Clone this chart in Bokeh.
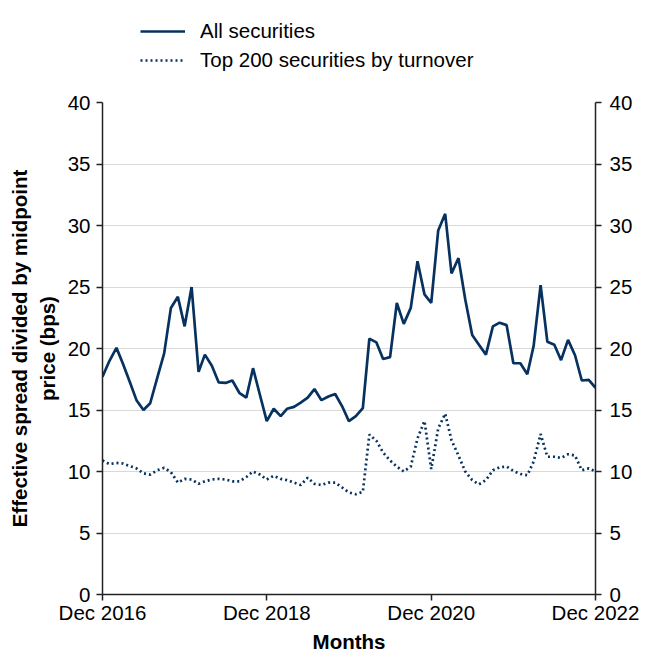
import pandas as pd
from bokeh.plotting import figure
from bokeh.layouts import column
from bokeh.models import (Legend, LegendItem, LinearAxis, Range1d, FixedTicker,
                          DatetimeTickFormatter, ColumnDataSource)
from bokeh.embed import file_html
from bokeh.resources import INLINE

months = pd.date_range("2016-12-01", periods=73, freq="MS")

all_securities = [
    17.7, 19.0, 20.05, 18.8, 17.3, 15.8, 15.0, 15.55, 17.6, 19.6,
    23.3, 24.2, 21.8, 25.0, 18.1, 19.5, 18.6, 17.25, 17.2, 17.4,
    16.4, 16.0, 18.4, 16.2, 14.1, 15.1, 14.5, 15.1, 15.25, 15.6,
    16.0, 16.7, 15.8, 16.1, 16.3, 15.3, 14.1, 14.5, 15.15, 20.8,
    20.5, 19.15, 19.3, 23.7, 22.0, 23.3, 27.1, 24.4, 23.7, 29.6,
    30.95, 26.1, 27.35, 24.0, 21.1, 20.3, 19.5, 21.8, 22.1, 21.9,
    18.8, 18.8, 17.9, 20.2, 25.15, 20.55, 20.3, 19.05, 20.7, 19.45,
    17.4, 17.45, 16.8,
]

top200 = [
    10.9, 10.6, 10.7, 10.65, 10.45, 10.25, 9.85, 9.75, 10.1, 10.3,
    9.95, 9.1, 9.4, 9.35, 9.0, 9.2, 9.35, 9.4, 9.35, 9.2,
    9.2, 9.55, 10.0, 9.75, 9.35, 9.65, 9.4, 9.3, 9.1, 8.9,
    9.5, 9.0, 8.9, 9.1, 9.1, 8.7, 8.3, 8.15, 8.35, 13.0,
    12.5, 11.55, 10.9, 10.4, 10.0, 10.4, 12.7, 14.1, 10.2, 13.5,
    14.7, 12.55, 11.3, 10.0, 9.3, 8.95, 9.3, 10.1, 10.35, 10.4,
    10.05, 9.8, 9.7, 10.8, 13.05, 11.2, 11.2, 11.1, 11.4, 11.3,
    10.1, 10.25, 10.0,
]

tick_dates = ["2016-12-01", "2018-12-01", "2020-12-01", "2022-12-01"]
y_ticks = [0, 5, 10, 15, 20, 25, 30, 35, 40]

series_labels = ["All securities", "Top 200 securities by turnover"]
x_label = "Months"
y_label = "Effective spread divided by midpoint\nprice (bps)"

COLOR = "#07325f"
FONT = "Liberation Sans"
FS = "20.5px"
SOLID_W = 2.7
DOT_DASH = "2 3"
W = 656

src = ColumnDataSource(dict(x=months, a=all_securities, t=top200))

# ---------- legend strip (series drawn out of view; only the key shows) ----------
LEG_H = 80
lf = figure(width=W, height=LEG_H, output_backend="svg", toolbar_location=None,
            x_axis_type="datetime",
            x_range=Range1d(months[0], months[-1]), y_range=Range1d(1000, 1001),
            min_border_left=102, min_border_right=W - 595, min_border_top=0,
            min_border_bottom=0)
lf.axis.visible = False
lf.grid.visible = False
lf.outline_line_color = None
l1 = lf.line("x", "a", source=src, line_color=COLOR, line_width=SOLID_W)
l2 = lf.line("x", "t", source=src, line_color=COLOR, line_width=SOLID_W,
             line_dash=DOT_DASH)
legend = Legend(items=[LegendItem(label=series_labels[0], renderers=[l1]),
                       LegendItem(label=series_labels[1], renderers=[l2])],
                location=(38, 8))
legend.border_line_color = None
legend.background_fill_alpha = 0
legend.padding = 0
legend.margin = 0
legend.spacing = 5
legend.glyph_width = 45
legend.glyph_height = 24
legend.label_height = 24
legend.label_standoff = 15
legend.label_text_font = FONT
legend.label_text_font_size = FS
legend.label_text_color = "#000000"
lf.add_layout(legend, "center")

# ---------- main chart ----------
p = figure(width=W, height=660 - LEG_H, output_backend="svg", toolbar_location=None,
           x_axis_type="datetime",
           x_range=Range1d(months[0], months[-1]),
           y_range=Range1d(0, 40),
           min_border_left=102, min_border_right=W - 595, min_border_top=102 - LEG_H,
           min_border_bottom=660 - 594)
p.outline_line_color = None
p.xgrid.grid_line_color = None
p.ygrid.grid_line_color = "#d9d9d9"
p.ygrid.grid_line_width = 1
p.ygrid.ticker = FixedTicker(ticks=y_ticks)

p.line("x", "a", source=src, line_color=COLOR, line_width=SOLID_W)
p.line("x", "t", source=src, line_color=COLOR, line_width=SOLID_W,
       line_dash=DOT_DASH)

tick_ms = [pd.Timestamp(d).value / 1e6 for d in tick_dates]
xa = p.xaxis[0]
xa.ticker = FixedTicker(ticks=tick_ms)
xa.formatter = DatetimeTickFormatter(months="%b %Y", days="%b %Y", years="%b %Y")
xa.axis_label = x_label

ya = p.yaxis[0]
ya.ticker = FixedTicker(ticks=y_ticks)
ya.axis_label = y_label

yr = LinearAxis(ticker=FixedTicker(ticks=y_ticks))
p.add_layout(yr, "right")

for ax in [xa, ya, yr]:
    ax.axis_line_color = "#222222"
    ax.axis_line_width = 1.5
    ax.major_tick_line_color = "#222222"
    ax.major_tick_line_width = 1.5
    ax.major_tick_out = 6
    ax.major_tick_in = 0
    ax.minor_tick_line_color = None
    ax.major_label_text_font = FONT
    ax.major_label_text_font_size = FS
    ax.major_label_text_color = "#000000"
    ax.axis_label_text_font = FONT
    ax.axis_label_text_font_size = FS
    ax.axis_label_text_font_style = "bold"
    ax.axis_label_text_color = "#000000"
xa.major_label_standoff = 0
xa.axis_label_standoff = 3
ya.major_label_standoff = 6
yr.major_label_standoff = 8
ya.axis_label_standoff = 6

layout = column(lf, p, spacing=0)
open("out.html", "w").write(file_html(layout, INLINE))
